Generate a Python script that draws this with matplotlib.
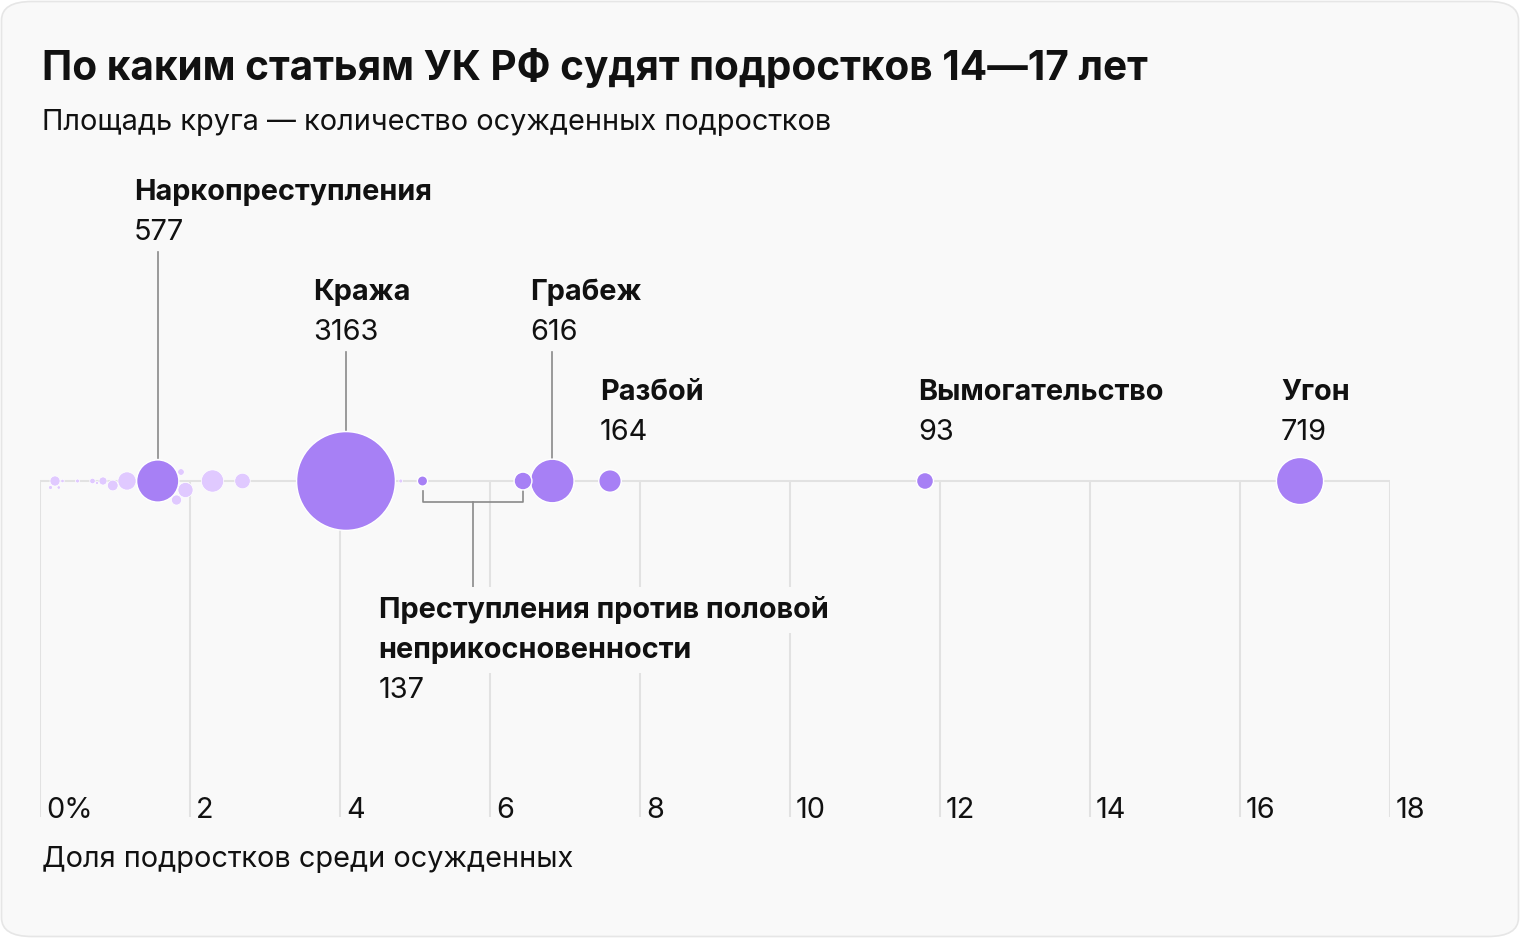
import numpy as np
import matplotlib
matplotlib.use("Agg")
import matplotlib.pyplot as plt
from matplotlib.patches import FancyBboxPatch

plt.rcParams['font.family'] = ['Inter', 'DejaVu Sans']

# highlighted crimes: share of teens among convicted (%), number of convicted teens
crimes = ['Наркопреступления', 'Кража', 'Грабеж', 'Разбой', 'Вымогательство', 'Угон']
crime_share = [1.57, 4.08, 6.83, 7.6, 11.8, 16.8]
crime_count = [577, 3163, 616, 164, 93, 719]

# crimes against sexual inviolability (two articles, 137 in total)
sex_label = ['Преступления против половой', 'неприкосновенности']
sex_total = 137
sex_share = [5.1, 6.44]
sex_count = [34, 103]

# all other articles (light bubbles)
other_share = [0.14, 0.20, 0.25, 0.30, 0.50, 0.70, 0.76, 0.84, 0.97, 1.16,
               1.82, 1.88, 1.94, 2.30, 2.70, 4.81]
other_count = [5, 33, 4, 4, 5, 10, 3, 21, 37, 107,
               33, 14, 74, 160, 78, 5]

x_ticks = [0, 2, 4, 6, 8, 10, 12, 14, 16, 18]

# label layout: pixel offset from bubble centre, baseline of the name
label_dx = [-24, -33, -22, -10, -7, -19]
label_y = [200, 300, 300, 400, 400, 400]
with_leader = [True, True, True, False, False, False]

BG = '#F9F9F9'
GRID = '#E2E2E2'
LEAD = '#8A8A8A'
HI = '#A780F5'
LIGHT = '#E0C9FF'
INK = '#111111'
FS = 20.8
BASE_Y = 481
S_PER_COUNT = 1.6  # marker area (pt^2) per convicted teen

fig = plt.figure(figsize=(15.2, 9.38), dpi=100)
fig.patch.set_facecolor('white')
card = FancyBboxPatch((1.5 / 1520, 1.5 / 938), 1517 / 1520, 935 / 938,
                      boxstyle='round,pad=0,rounding_size=0.02',
                      transform=fig.transFigure, facecolor=BG,
                      edgecolor='#E6E6E6', linewidth=1.2, zorder=-5)
fig.patches.append(card)

ax = fig.add_axes([40 / 1520, 0, 1350 / 1520, 1])
ax.set_zorder(2)
ax.set_xlim(0, 18)
ax.set_ylim(938, 0)
ax.axis('off')
ax.patch.set_alpha(0)

# grid
for t in x_ticks:
    ax.plot([t, t], [BASE_Y, 817], color=GRID, lw=1.5, zorder=1, solid_capstyle='butt')
    lab = '0%' if t == 0 else str(t)
    ax.annotate(lab, (t, 818), xytext=(6, 0), textcoords='offset pixels',
                fontsize=FS, va='baseline', ha='left', color=INK)
ax.plot([0, 18], [BASE_Y, BASE_Y], color=GRID, lw=1.5, zorder=1)


def radius_px(count):
    return np.sqrt(S_PER_COUNT * count) / 2 * 100 / 72


# beeswarm: main bubbles sit on the line, light ones are nudged vertically
placed = []
for s, c in zip(crime_share + sex_share, crime_count + sex_count):
    px = ax.transData.transform((s, BASE_Y))[0]
    placed.append((px, 0.0, radius_px(c)))

order = np.argsort(other_count)[::-1]
other_dy = [0.0] * len(other_share)
cands = sorted(np.arange(-40, 40.5, 0.5), key=lambda d: (abs(d), -d))
for i in order:
    px = ax.transData.transform((other_share[i], BASE_Y))[0]
    r = radius_px(other_count[i])
    for dy in cands:
        if all(np.hypot(px - qx, dy - qy) >= r + qr + 0.5 for qx, qy, qr in placed):
            break
    other_dy[i] = dy
    placed.append((px, dy, r))

ax.scatter(other_share, [BASE_Y + d for d in other_dy],
           s=[S_PER_COUNT * c for c in other_count], color=LIGHT,
           edgecolor='white', linewidth=0.5, zorder=3, clip_on=False)
ax.scatter(crime_share + sex_share, [BASE_Y] * (len(crime_share) + len(sex_share)),
           s=[S_PER_COUNT * c for c in crime_count + sex_count], color=HI,
           edgecolor='white', linewidth=1.0, zorder=4, clip_on=False)

# labels
for name, s, c, dx, y, lead in zip(crimes, crime_share, crime_count,
                                   label_dx, label_y, with_leader):
    ax.annotate(name, (s, y), xytext=(dx, 0), textcoords='offset pixels',
                fontsize=FS, fontweight='bold', va='baseline', ha='left', color=INK)
    ax.annotate(str(c), (s, y + 40), xytext=(dx, 0), textcoords='offset pixels',
                fontsize=FS, va='baseline', ha='left', color=INK)
    if lead:
        ax.plot([s, s], [y + 52, BASE_Y - radius_px(c) - 1.5], color=LEAD, lw=1.2, zorder=2)

# bracket for the two sexual-offence articles
bx0, bx1 = sex_share
mid = (bx0 + bx1) / 2
ax.plot([bx0, bx0, bx1, bx1], [491, 502, 502, 491], color=LEAD, lw=1.2, zorder=2)
ax.plot([mid, mid], [502, 588], color=LEAD, lw=1.2, zorder=2)
for k, line in enumerate(sex_label):
    ax.annotate(line, (mid, 618 + 40 * k), xytext=(-94, 0), textcoords='offset pixels',
                fontsize=FS, fontweight='bold', va='baseline', ha='left', color=INK,
                zorder=5,
                bbox=dict(boxstyle='square,pad=0.3', facecolor=BG, edgecolor='none'))
ax.annotate(str(sex_total), (mid, 698), xytext=(-94, 0), textcoords='offset pixels',
            fontsize=FS, va='baseline', ha='left', color=INK)

# titles
fig.text(42 / 1520, 1 - 80 / 938, 'По каким статьям УК РФ судят подростков 14—17 лет',
         fontsize=29.2, fontweight='bold', va='baseline', ha='left', color=INK)
fig.text(42 / 1520, 1 - 130 / 938, 'Площадь круга — количество осужденных подростков',
         fontsize=FS, va='baseline', ha='left', color=INK)
fig.text(42 / 1520, 1 - 867 / 938, 'Доля подростков среди осужденных',
         fontsize=FS, va='baseline', ha='left', color=INK)

fig.savefig('out.png', dpi=100, facecolor='white')
